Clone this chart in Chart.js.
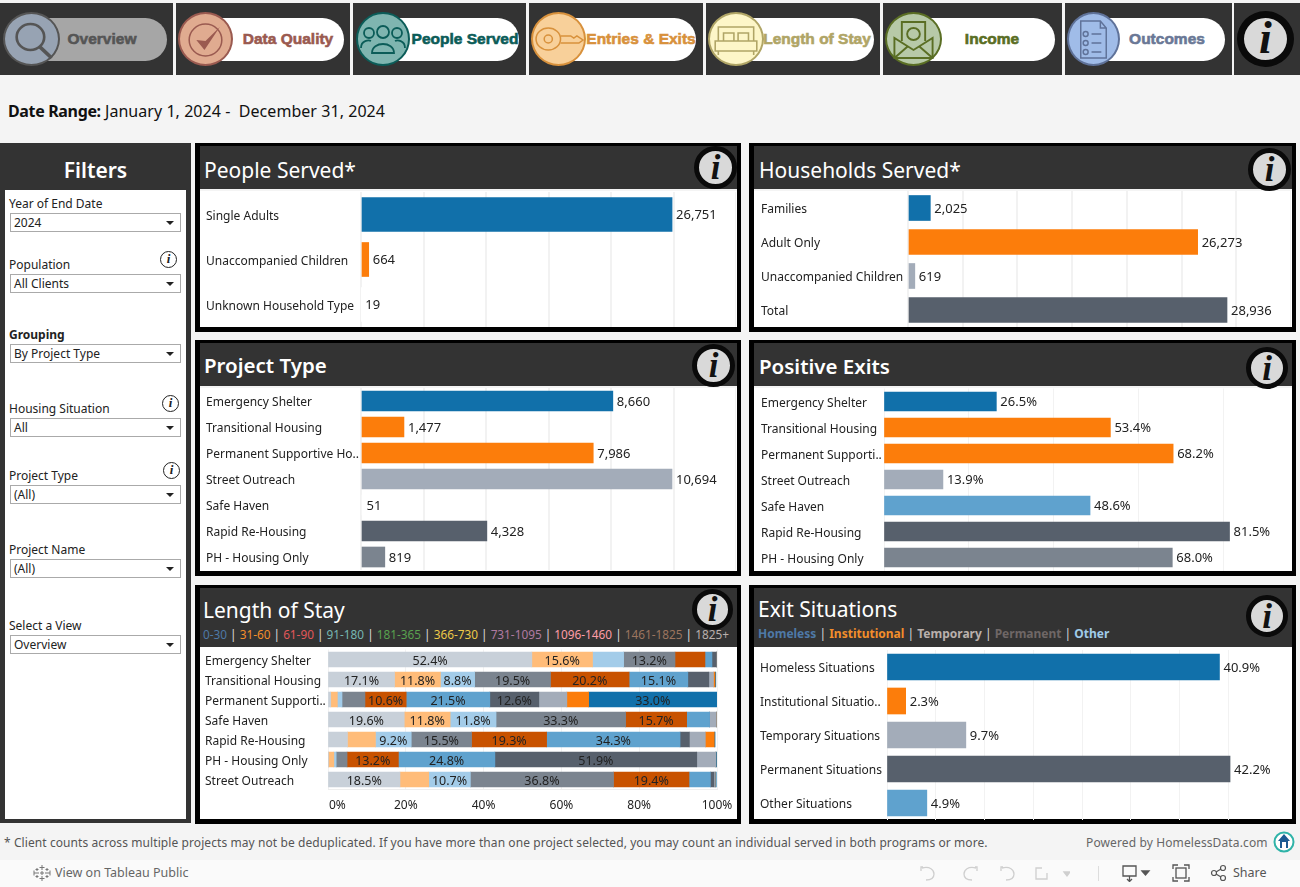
<!DOCTYPE html>
<html><head><meta charset="utf-8">
<script src="https://cdn.jsdelivr.net/npm/chart.js@4"></script>
<style>
html,body{margin:0;padding:0;width:1300px;height:887px;overflow:hidden;background:#f4f4f4;font-family:"Noto Sans","Open Sans",sans-serif;color:#222}
.a{position:absolute;white-space:nowrap}
canvas{position:absolute;display:block}
.nav{background:#333;top:3px;height:72px}
.pill{top:18px;height:43px;background:#fff;border-radius:22px;border:0}
.circ{top:12px;height:54px;border-radius:50%;border:2px solid;box-sizing:border-box}
.navt{top:39px;transform:translate(-50%,-50%);font:bold 15.5px "Liberation Sans Narrow",sans-serif;-webkit-text-stroke:.6px currentColor}
.ttl{color:#fff;font-size:21px;line-height:24px}
.fl{font-size:12px;left:9px;line-height:14px;color:#222}
.sel{left:10px;width:171px;height:19px;box-sizing:border-box;border:1px solid #aaa;background:#fff;font-size:12px;line-height:17px;padding-left:3px;color:#222}
.sel:after{content:"";position:absolute;right:6px;top:7px;border:4px solid transparent;border-top:4px solid #222;border-bottom:0}
.ii{width:17px;height:17px;border:1.5px solid #222;border-radius:50%;box-sizing:border-box;font:italic bold 13px/14px "Liberation Serif",serif;text-align:center;color:#222}
.info{border-radius:50%;border:5px solid #0a0a0a;background:#d9d9d9;box-sizing:border-box;font:italic bold 35px/33px "Liberation Serif",serif;text-align:center;color:#111}
</style></head><body>
<div id="root"></div>
<script>
// ---------- chart data ----------
const peopleCategories = ["Single Adults","Unaccompanied Children","Unknown Household Type"];
const peopleValues = [26751,664,19];
const householdCategories = ["Families","Adult Only","Unaccompanied Children","Total"];
const householdValues = [2025,26273,619,28936];
const projectCategories = ["Emergency Shelter","Transitional Housing","Permanent Supportive Ho..","Street Outreach","Safe Haven","Rapid Re-Housing","PH - Housing Only"];
const projectValues = [8660,1477,7986,10694,51,4328,819];
const exitCategories = ["Emergency Shelter","Transitional Housing","Permanent Supporti..","Street Outreach","Safe Haven","Rapid Re-Housing","PH - Housing Only"];
const exitValues = [26.5,53.4,68.2,13.9,48.6,81.5,68.0];
const stayCategories = ["Emergency Shelter","Transitional Housing","Permanent Supporti..","Safe Haven","Rapid Re-Housing","PH - Housing Only","Street Outreach"];
const stay0to30 =     [52.4,17.1,0.7,19.6,5.0,0.1,18.5];
const stay31to60 =    [15.6,11.8,1.7,11.8,7.2,1.4,7.4];
const stay61to90 =    [8.0,8.8,1.2,11.8,9.2,0.6,10.7];
const stay91to180 =   [13.2,19.5,5.9,33.3,15.5,2.8,36.8];
const stay181to365 =  [7.7,20.2,10.6,15.7,19.3,13.2,19.4];
const stay366to730 =  [1.8,15.1,21.5,5.9,34.3,24.8,5.5];
const stay731to1095 = [1.1,5.4,12.6,0,2.4,51.9,0.9];
const stay1096to1460 =[0,1.2,7.2,1.7,4.1,4.9,0.3];
const stay1461to1825 =[0,0.4,5.6,0,2.3,0,0];
const stay1825plus =  [0.2,0.2,33.0,0.2,0.2,0.3,0.3];
const situationCategories = ["Homeless Situations","Institutional Situatio..","Temporary Situations","Permanent Situations","Other Situations"];
const situationValues = [40.9,2.3,9.7,42.2,4.9];
const stayTicks = ["0%","20%","40%","60%","80%","100%"];
// ---------- styling ----------
const C = {blue:"#1170aa",orange:"#fc7d0b",lgrey:"#a3acb9",dgrey:"#57606c",sky:"#5fa2ce",rust:"#c85200",mgrey:"#7b848f",lsky:"#a3cce9",peach:"#ffbc79",pale:"#c8d0d9",none:"#ffffff"};
const FONT = '"Noto Sans","Open Sans",sans-serif';
const root = document.getElementById('root');
function el(cls,x,y,w,h,html,style){
  const d=document.createElement('div');d.className='a '+(cls||'');
  let s='';
  if(x!=null)s+='left:'+x+'px;';if(y!=null)s+='top:'+y+'px;';if(w!=null)s+='width:'+w+'px;';if(h!=null)s+='height:'+h+'px;';
  d.style.cssText=s+(style||'');if(html!=null)d.innerHTML=html;root.appendChild(d);return d;
}
// ---------- navigation ----------
const icons={
 mag:'<circle cx="24" cy="23" r="13" fill="none" stroke="#555" stroke-width="2.5"/><path d="M33 33l11 11" stroke="#555" stroke-width="3.5"/>',
 chk:'<circle cx="25" cy="26" r="16" fill="none" stroke="#9a5a50" stroke-width="1.5"/><path d="M16 26l8 10 15-23-14 14z" fill="#9a5a50"/>',
 ppl:'<g fill="none" stroke="#0b5c58" stroke-width="1.8"><circle cx="25" cy="18" r="6"/><circle cx="11" cy="19" r="5"/><circle cx="39" cy="19" r="5"/><path d="M14 39c0-12 22-12 22 0zM3 34c0-8 8-8 10-7M47 34c0-8-8-8-10-7"/></g>',
 key:'<g fill="none" stroke="#d8913c" stroke-width="1.5"><ellipse cx="15" cy="25" rx="12" ry="11"/><circle cx="15" cy="25" r="4"/><path d="M27 22h10l3 2 3-2 6 4-4 3H27"/></g>',
 bed:'<g fill="none" stroke="#b0a566" stroke-width="1.5"><path d="M8 27V13h34v14M13 27v-8h10v8M27 27v-8h10v8M5 27h40v10H5zM8 37v4M42 37v4"/></g>',
 env:'<g fill="none" stroke="#5a6e24" stroke-width="1.8"><path d="M7 24v20h36V24L25 36zM7 44l13-12M43 44L30 32M14 27V8h22v19"/><circle cx="25" cy="20" r="6"/></g>',
 doc:'<g fill="none" stroke="#5f7299" stroke-width="1.5"><path d="M12 7h20l6 7v30H12zM32 7v7h6"/><circle cx="17" cy="20" r="2.5"/><circle cx="17" cy="29" r="2.5"/><circle cx="17" cy="38" r="2.5"/><path d="M23 20h10M23 29h10M23 38h10"/></g>'};
const navItems=[
 {b:[0,173],c:[3,57],p:167,t:102,label:"Overview",tc:"#555",fill:"#97a3b3",bd:"#555",pill:"#a6a6a6",ic:"mag"},
 {b:[176,174],c:[178,55],p:344,t:288,label:"Data Quality",tc:"#9a5a50",fill:"#e0ab90",bd:"#9a5a50",pill:"#fff",ic:"chk"},
 {b:[353,173],c:[356,54],p:519,t:465,label:"People Served",tc:"#0b5c58",fill:"#7fb5b0",bd:"#0b5c58",pill:"#fff",ic:"ppl"},
 {b:[529,174],c:[531,55],p:696,t:641,label:"Entries &amp; Exits",tc:"#d8913c",fill:"#f8d09a",bd:"#d8913c",pill:"#fff",ic:"key"},
 {b:[706,174],c:[708,56],p:874,t:817,label:"Length of Stay",tc:"#b0a566",fill:"#fdf6c8",bd:"#b0a566",pill:"#fff",ic:"bed"},
 {b:[883,179],c:[885,57],p:1055,t:992,label:"Income",tc:"#5a6e24",fill:"#b7c9a8",bd:"#5a6e24",pill:"#fff",ic:"env"},
 {b:[1065,167],c:[1067,53],p:1225,t:1167,label:"Outcomes",tc:"#6a7896",fill:"#a0bce8",bd:"#5f7299",pill:"#fff",ic:"doc"}];
navItems.forEach(n=>{
  el('nav',n.b[0],null,n.b[1],null);
  el('pill',n.c[0]+20,null,n.p-n.c[0]-20,null,null,'background:'+n.pill);
  el('circ',n.c[0],null,n.c[1],null,'<svg width="100%" height="100%" viewBox="0 0 50 50" preserveAspectRatio="none">'+icons[n.ic]+'</svg>','background:'+n.fill+';border-color:'+n.bd);
  el('navt',n.t,null,null,null,n.label,'color:'+n.tc);
});
el('nav',1234,null,66,null);
el('info',1237,11,57,56,'i','border-width:7px;font-size:46px;line-height:40px');
el('',8,101,null,null,'<b style="font-weight:700;letter-spacing:-.35px">Date Range:</b> January 1, 2024 -&nbsp; December 31, 2024','font-size:16px;line-height:20px;color:#111;letter-spacing:.05px');
// ---------- filters ----------
el('',0,143,191,680,null,'background:#333');
el('',5,190,181,629,null,'background:#fff');
el('',0,157,191,null,'Filters','text-align:center;color:#fff;font-size:21px;line-height:26px;font-weight:600');
[["Year of End Date",197,213,"2024"],["Population",258,274,"All Clients",168],["<b>Grouping</b>",328,344,"By Project Type"],["Housing Situation",402,418,"All",170],["Project Type",469,485,"(All)",171],["Project Name",543,559,"(All)"],["Select a View",619,635,"Overview"]].forEach(f=>{
  el('fl',null,f[1],null,null,f[0]);
  el('sel',null,f[2],null,null,f[3]);
  if(f[4]) el('ii',f[4]-8,f[1]-7,null,null,'i');
});
// ---------- panels ----------
function panel(x,y,w,h,hdr,title,bold,titleY,tx){
  el('',x,y,w,h,null,'background:#000');
  el('',x+5,y+3,w-9,hdr,null,'background:#333');
  el('',x+5,y+3+hdr,w-9,h-3-hdr-5,null,'background:#fff');
  if(hdr===43) el('',x+5,y+3+hdr,w-9,2,null,'background:#f4f4f4');
  el('ttl',tx,titleY,null,null,title,bold?'font-weight:600;font-size:20.5px':'');
}
function infoBtn(x,y,s){el('info',x,y,s,s,'i','line-height:'+(s-9)+'px');}
panel(195,143,546,189,43,'People Served*',false,158,204); infoBtn(694,146,43);
panel(749,143,547,189,43,'Households Served*',false,158,759); infoBtn(1248,148,43);
panel(195,340,546,236,43,'Project Type',true,353,204); infoBtn(692,344,43);
panel(749,340,547,236,43,'Positive Exits',true,354,759); infoBtn(1246,347,42);
panel(195,585,546,239,59,'Length of Stay',false,598,203); infoBtn(692,589,41);
panel(749,585,547,239,59,'Exit Situations',false,597,758); infoBtn(1246,595,42);
const stayLegend=[["0-30","#4e79a7"],["31-60","#f28e2b"],["61-90","#e15759"],["91-180","#76b7b2"],["181-365","#59a14f"],["366-730","#edc948"],["731-1095","#b07aa1"],["1096-1460","#ff9da7"],["1461-1825","#9c755f"],["1825+","#bab0ac"]];
el('',203,626,null,null,stayLegend.map(l=>'<span style="color:'+l[1]+'">'+l[0]+'</span>').join('<span style="color:#ddd"> | </span>'),'font-size:11.8px;line-height:16px');
const exitLegend=[["Homeless","#4e79a7"],["Institutional","#f28e2b"],["Temporary","#bab0ac"],["Permanent","#6f6766"],["Other","#a0cbe8"]];
el('',758,626,null,null,exitLegend.map(l=>'<span style="color:'+l[1]+'">'+l[0]+'</span>').join('<span style="color:#ddd;font-weight:400"> | </span>'),'font-size:12px;line-height:16px;font-weight:700');
// ---------- footer ----------
el('',0,825,1300,35,null,'background:#f4f4f4');
el('',0,860,1300,27,null,'background:#fafafa');
el('',4,835,null,null,'* Client counts across multiple projects may not be deduplicated. If you have more than one project selected, you may count an individual served in both programs or more.','font-size:12px;line-height:16px;color:#555;letter-spacing:.085px');
el('',1086,835,null,null,'Powered by HomelessData.com','font-size:12px;line-height:16px;color:#666;letter-spacing:.12px');
el('',1273,831,22,22,'<svg width="22" height="22" viewBox="0 0 22 22"><circle cx="11" cy="11" r="9.5" fill="#fff" stroke="#2fb3a8" stroke-width="2"/><path d="M11 3l6 7h-2v7H7v-7H5z" fill="#1c5a92"/><rect x="9" y="11" width="4" height="6" fill="#fff"/></svg>');
el('',55,865,null,null,'View on Tableau Public','font-size:12.5px;line-height:16px;color:#666');
el('',33,864,18,18,'<svg width="18" height="18" viewBox="0 0 18 18" stroke="#777" stroke-width="1" fill="none"><path d="M9 1v5M6.5 3.500h5M9 12v5M6.5 14.500h5M1 9h5M1 6.500v5M12 9h5M17 6.500v5M4 4v3M2.500 5.500h3M14 4v3M12.500 5.500h3M4 11v3M2.500 12.500h3M14 11v3M12.500 12.500h3M9 7v4M7 9h4"/></svg>');
el('',920,864,150,18,'<svg width="150" height="18" viewBox="0 0 150 18" fill="none" stroke="#cfcfcf" stroke-width="1.300"><path d="M3 3h-2v4M2 4c8-2 12 2 12 6s-3 6-8 6"/><path d="M55 3h2v4M56 4c-8-2-12 2-12 6s3 6 8 6"/><path d="M83 3h-2v4M82 4c8-2 12 2 12 6s-3 6-8 6"/><path d="M122 4h-2M120 4h-4v11h11v-6"/><path d="M144 8l3 4 3-4z" fill="#cfcfcf"/></svg>');
el('',1098,866,1,15,null,'background:#ddd');
el('',1122,864,36,18,'<svg width="36" height="18" viewBox="0 0 36 18" fill="none" stroke="#555" stroke-width="1.300"><path d="M1 2h13v10H1zM7.500 12v5M5 15l2.500 2.500L10 15"/><path d="M20 7l3.500 4L27 7z" fill="#555"/></svg>');
el('',1172,864,18,18,'<svg width="18" height="18" viewBox="0 0 18 18" fill="none" stroke="#555" stroke-width="1.300"><rect x="4" y="4" width="10" height="10"/><path d="M1 5V1h5M12 1h5v4M17 13v4h-5M6 17H1v-4"/></svg>');
el('',1210,864,18,18,'<svg width="18" height="18" viewBox="0 0 18 18" fill="none" stroke="#555" stroke-width="1.200"><circle cx="4" cy="9" r="2.500"/><circle cx="13" cy="4" r="2.500"/><circle cx="13" cy="14" r="2.500"/><path d="M6 8l5-3M6 10l5 3"/></svg>');
el('',1233,865,null,null,'Share','font-size:12.5px;line-height:16px;color:#555');
// ---------- charts ----------
const valueLabels={id:'valueLabels',afterDatasetsDraw(ch,a,o){
  if(!o.fmt)return;const ctx=ch.ctx;ctx.save();ctx.font='13px '+FONT;ctx.fillStyle='#222';ctx.textBaseline='middle';ctx.textAlign='left';
  ch.getDatasetMeta(0).data.forEach((b,i)=>ctx.fillText(o.fmt(ch.data.datasets[0].data[i]),b.x+4,b.y+1));ctx.restore();}};
const segmentLabels={id:'segmentLabels',afterDatasetsDraw(ch,a,o){
  if(!o.min)return;const ctx=ch.ctx;ctx.save();ctx.font='12.5px '+FONT;ctx.fillStyle='#222';ctx.textBaseline='middle';ctx.textAlign='center';
  ch.data.datasets.forEach((ds,k)=>ch.getDatasetMeta(k).data.forEach((b,i)=>{if(ds.data[i]>=o.min)ctx.fillText(ds.data[i].toFixed(1)+'%',(b.x+b.base)/2,b.y+1.5);}));ctx.restore();}};
const axisText={id:'axisText',afterDraw(ch,a,o){
  if(!o.labels)return;const ctx=ch.ctx,s=ch.scales.x;ctx.save();ctx.font='12px '+FONT;ctx.fillStyle='#222';ctx.textBaseline='middle';
  s.ticks.forEach((t,i)=>{ctx.textAlign=i===0?'left':'center';ctx.fillText(o.labels[i],s.getPixelForValue(t.value)+(i===0?1:0),o.y);});ctx.restore();}};
Chart.register(valueLabels,segmentLabels,axisText);
function makeChart(cfg){
  const cv=document.createElement('canvas');
  cv.width=cfg.w;cv.height=cfg.h;cv.style.left=cfg.x+'px';cv.style.top=cfg.y+'px';cv.style.width=cfg.w+'px';cv.style.height=cfg.h+'px';
  root.appendChild(cv);
  const pad=cfg.pad,left=cfg.left||6;
  return new Chart(cv,{type:'bar',data:{labels:cfg.labels,datasets:cfg.datasets},options:{
    indexAxis:'y',responsive:false,animation:false,maintainAspectRatio:false,devicePixelRatio:1,
    layout:{autoPadding:false,padding:{left:left,right:cfg.right||0,top:pad[0],bottom:pad[1]}},
    plugins:{legend:{display:false},tooltip:{enabled:false},title:{display:false},
      valueLabels:{fmt:cfg.fmt},segmentLabels:{min:cfg.segMin},axisText:{labels:cfg.tickLabels,y:cfg.tickY}},
    scales:{
      x:{min:0,max:cfg.max,stacked:!!cfg.stacked,border:{display:!!cfg.axisLine,color:'#eeeeee',width:1},
        grid:{color:cfg.gridColor||'#f2f2f2',lineWidth:cfg.gridW||2,drawTicks:false},
        ticks:{display:false,stepSize:cfg.step},afterFit(s){s.height=0;s.paddingLeft=0;s.paddingRight=0;}},
      y:{stacked:!!cfg.stacked,border:{display:false},grid:{display:false},
        ticks:{crossAlign:'far',padding:0,labelOffset:2,autoSkip:false,color:'#222',font:{size:12,family:FONT}},
        afterFit(s){s.width=cfg.axisW-left;s.paddingTop=0;s.paddingBottom=0;}}
    }}});
}
const single=(vals,colors,t)=>[{data:vals,backgroundColor:colors,barThickness:t,categoryPercentage:1,barPercentage:1}];
const nf=v=>v.toLocaleString('en-US');const pf=v=>v.toFixed(1)+'%';
makeChart({x:200,y:189,w:536,h:138,axisW:161,pad:[3,0],labels:peopleCategories,datasets:single(peopleValues,[C.blue,C.orange,C.none],34),max:32250,step:5000,fmt:nf});
makeChart({x:754,y:189,w:537,h:138,axisW:154,left:7,pad:[2,0],labels:householdCategories,datasets:single(householdValues,[C.blue,C.orange,C.lgrey,C.dgrey],25),max:34740,step:5000,fmt:nf});
makeChart({x:200,y:386,w:536,h:185,axisW:161,pad:[2,1],labels:projectCategories,datasets:single(projectValues,[C.blue,C.orange,C.orange,C.lgrey,C.none,C.dgrey,C.mgrey],20),max:12895,step:2000,fmt:nf});
makeChart({x:754,y:386,w:537,h:185,axisW:130,left:7,pad:[2.5,0.5],labels:exitCategories,datasets:single(exitValues,[C.blue,C.orange,C.orange,C.lgrey,C.sky,C.dgrey,C.mgrey],19),max:96,step:20,fmt:pf,gridW:1});
const stayBuckets=[[stay0to30,C.pale],[stay31to60,C.peach],[stay61to90,C.lsky],[stay91to180,C.mgrey],[stay181to365,C.rust],[stay366to730,C.sky],[stay731to1095,C.dgrey],[stay1096to1460,C.lgrey],[stay1461to1825,C.orange],[stay1825plus,C.blue]];
makeChart({x:200,y:647,w:536,h:172,axisW:128,left:5,right:19,pad:[2.5,29.5],labels:stayCategories,stacked:true,axisLine:true,
  datasets:stayBuckets.map(b=>({data:b[0],backgroundColor:b[1],barThickness:15,categoryPercentage:1,barPercentage:1})),
  max:100,step:20,segMin:8.5,tickLabels:stayTicks,tickY:159,gridW:1});
makeChart({x:754,y:647,w:537,h:173,axisW:133,pad:[3,0],labels:situationCategories,datasets:single(situationValues,[C.blue,C.orange,C.lgrey,C.dgrey,C.sky],26),max:49.7,step:6,fmt:pf,gridW:1});
</script>
</body></html>
